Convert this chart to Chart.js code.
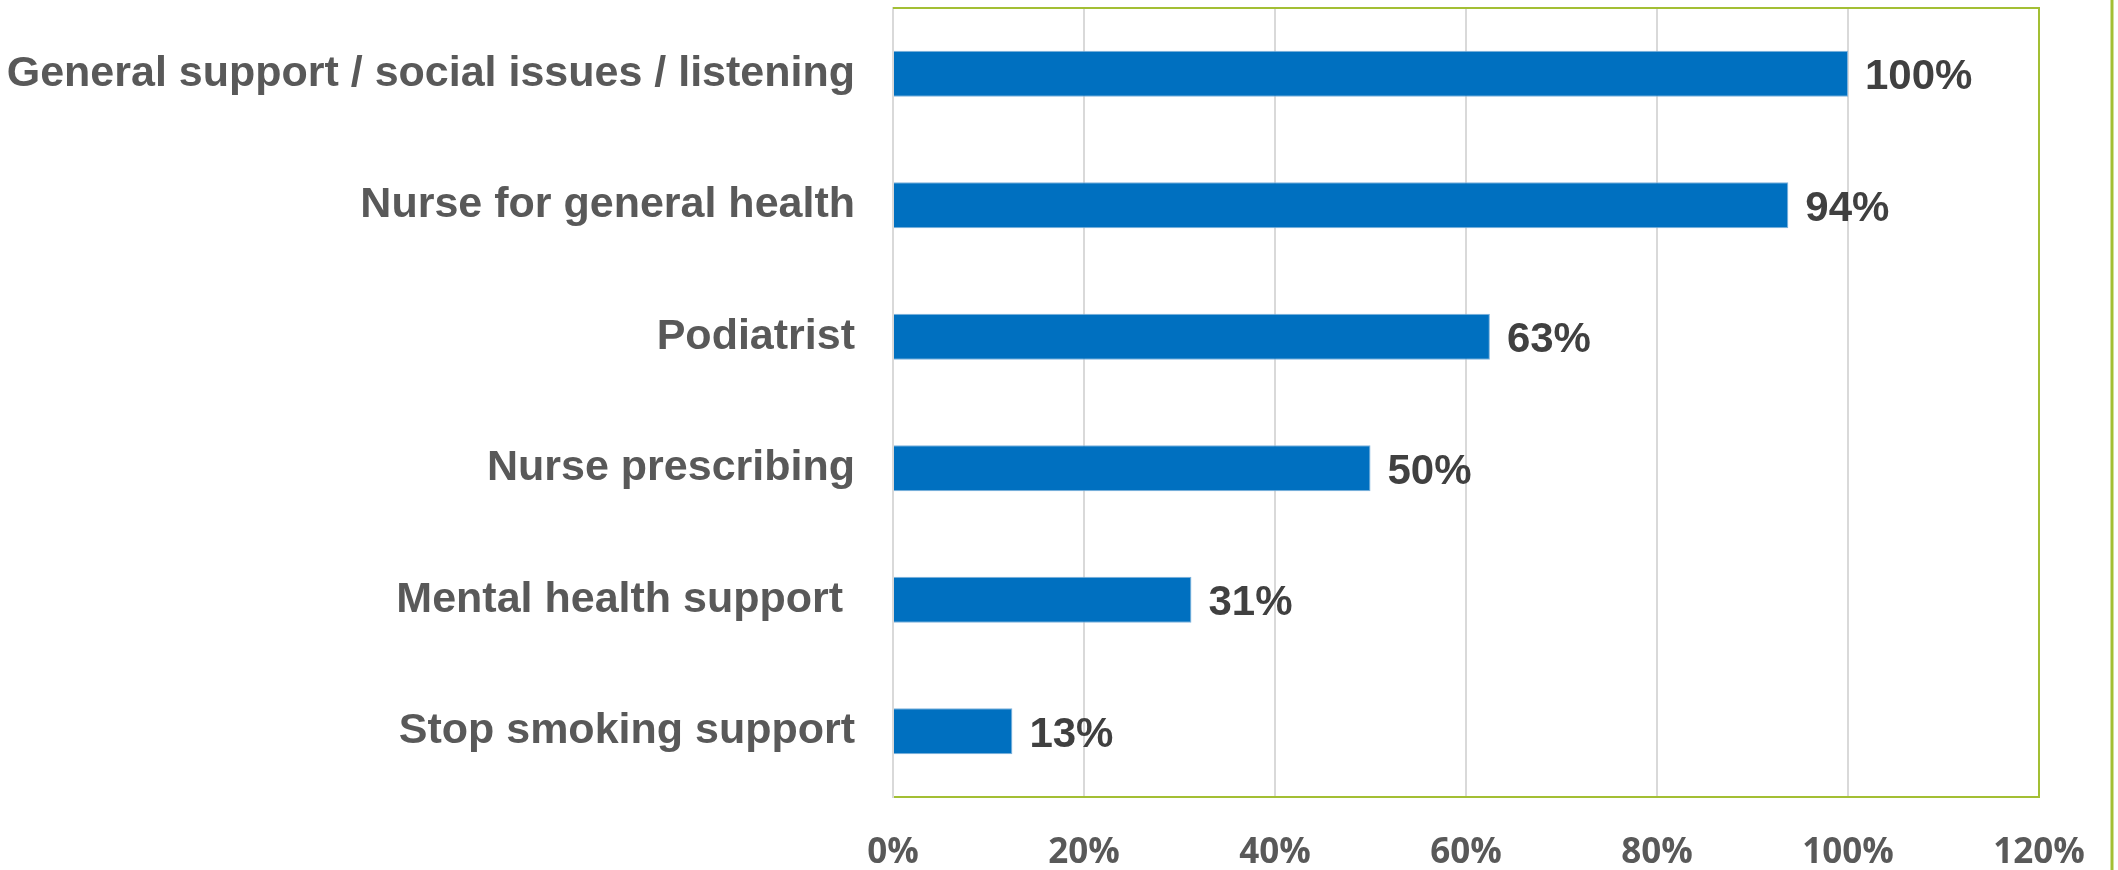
<!DOCTYPE html>
<html>
<head>
<meta charset="utf-8">
<script src="https://cdn.jsdelivr.net/npm/chart.js@4"></script>
<style>
  body { margin: 0; background: #fff; }
  #wrap { width: 2118px; height: 870px; position: relative; }
</style>
</head>
<body>
<div id="wrap"><canvas id="chart"></canvas></div>
<script>
const categories = [
  'General support / social issues / listening',
  'Nurse for general health',
  'Podiatrist',
  'Nurse prescribing',
  'Mental health support ',
  'Stop smoking support'
]
const shares = [100, 93.75, 62.5, 50, 31.25, 12.5]
const axisTicks = [0, 20, 40, 60, 80, 100, 120]

const GREEN = '#a3bf34'
const GRID = '#d9d9d9'

const valueLabels = {
  id: 'valueLabels',
  afterDatasetsDraw(chart) {
    const ctx = chart.ctx
    const meta = chart.getDatasetMeta(0)
    ctx.save()
    ctx.font = 'bold 42px "Liberation Sans", Arial, sans-serif'
    ctx.fillStyle = '#404040'
    ctx.textAlign = 'left'
    ctx.textBaseline = 'middle'
    meta.data.forEach((bar, i) => {
      ctx.fillText(Math.round(shares[i]) + '%', bar.x + 17, bar.y + 4)
    })
    ctx.restore()
  }
}

const frame = {
  id: 'frame',
  afterDraw(chart) {
    const { ctx, chartArea } = chart
    ctx.save()
    ctx.strokeStyle = GREEN
    ctx.lineWidth = 2
    ctx.beginPath()
    ctx.moveTo(chartArea.left, chartArea.top)
    ctx.lineTo(chartArea.right, chartArea.top)
    ctx.lineTo(chartArea.right, chartArea.bottom)
    ctx.stroke()
    ctx.lineWidth = 3
    ctx.beginPath()
    ctx.moveTo(chart.width - 6, 0)
    ctx.lineTo(chart.width - 6, chart.height)
    ctx.stroke()
    ctx.restore()
  }
}

new Chart(document.querySelector('#chart'), {
  type: 'bar',
  data: {
    labels: categories,
    datasets: [{
      data: shares,
      backgroundColor: '#0070c0',
      borderColor: '#7fb2dc',
      borderWidth: 1,
      barPercentage: 0.35,
      categoryPercentage: 1
    }]
  },
  options: {
    indexAxis: 'y',
    responsive: true,
    maintainAspectRatio: false,
    animation: false,
    layout: { padding: { top: 8, right: 79, bottom: 0, left: 0 } },
    plugins: {
      legend: { display: false },
      tooltip: { enabled: false }
    },
    scales: {
      x: {
        min: 0,
        max: 120,
        afterBuildTicks: (axis) => { axis.ticks = axisTicks.map(v => ({ value: v })) },
        afterFit: (axis) => {
          axis.height = 73
          axis.paddingLeft = 0
          axis.paddingRight = 0
        },
        grid: { color: GRID, lineWidth: 2, drawTicks: false },
        border: { color: GREEN, width: 2 },
        ticks: {
          padding: 35,
          color: '#595959',
          font: { family: '"Open Sans", sans-serif', size: 35, weight: 'bold' },
          callback: (v) => v + '%'
        }
      },
      y: {
        afterFit: (axis) => {
          axis.width = 893
          axis.paddingTop = 0
          axis.paddingBottom = 0
        },
        grid: { display: false, drawTicks: false },
        border: { color: GRID, width: 2 },
        ticks: {
          padding: 38,
          color: '#595959',
          font: { family: '"Liberation Sans", Arial, sans-serif', size: 43, weight: 'bold' }
        }
      }
    }
  },
  plugins: [valueLabels, frame]
})
</script>
</body>
</html>
